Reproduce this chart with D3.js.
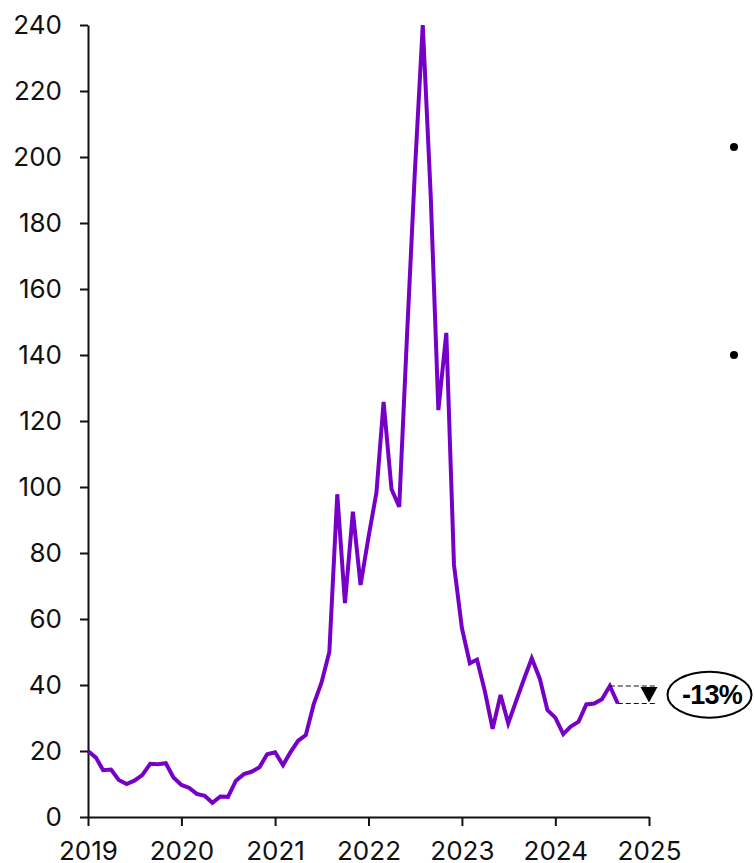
<!DOCTYPE html>
<html>
<head>
<meta charset="utf-8">
<script src="https://cdn.jsdelivr.net/npm/d3@7"></script>
<style>
  html, body { margin: 0; padding: 0; background: #fff; }
  svg { display: block; }
</style>
</head>
<body>
<svg id="chart" width="754" height="863"></svg>
<script>
// ---- data ----
const startMonth = "2019-01-01";
const values = [
  20.0, 18.0, 14.2, 14.4, 11.2, 10.0, 11.0, 12.7, 16.1, 16.0, 16.3, 12.0,
  9.7, 8.8, 7.0, 6.4, 4.3, 6.2, 6.1, 11.0, 13.0, 13.7, 15.1, 19.0,
  19.6, 15.7, 19.5, 23.1, 24.8, 34.2, 40.6, 50.0, 97.8, 64.8, 92.5, 70.3,
  84.8, 98.3, 125.8, 99.3, 94.0, 146.7, 195.3, 240.0, 188.5, 123.3, 146.7, 76.4,
  57.2, 46.6, 47.7, 38.0, 26.7, 37.0, 28.4, 35.2, 41.9, 48.1, 42.0, 32.4,
  30.1, 25.1, 27.4, 28.9, 34.1, 34.4, 35.7, 39.7, 34.4
];
const yTicks = [0, 20, 40, 60, 80, 100, 120, 140, 160, 180, 200, 220, 240];
const xTickYears = ["2019", "2020", "2021", "2022", "2023", "2024", "2025"];
const bulletRows = [147, 355];

// ---- build ----
const parse = d3.timeParse("%Y-%m-%d");
const t0 = parse(startMonth);
const series = values.map((v, i) => ({ date: d3.timeMonth.offset(t0, i), value: v }));

const svg = d3.select("#chart");
const x = d3.scaleTime()
  .domain([parse("2019-01-01"), parse("2025-01-01")])
  .range([88, 649]);
const y = d3.scaleLinear().domain([0, 240]).range([817, 25]);

const FONT = "Inter, 'Open Sans', 'DejaVu Sans', sans-serif";

// y axis
const yAxis = svg.append("g")
  .attr("transform", `translate(${x.range()[0]},0)`)
  .call(d3.axisLeft(y).tickValues(yTicks).tickSize(8).tickSizeOuter(0).tickPadding(18));
// x axis
const xAxis = svg.append("g")
  .attr("transform", `translate(0,${y(0)})`)
  .call(d3.axisBottom(x)
    .tickValues(xTickYears.map(s => parse(s + "-01-01")))
    .tickFormat(d3.timeFormat("%Y"))
    .tickSize(9).tickSizeOuter(0));

[yAxis, xAxis].forEach(g => {
  g.attr("font-family", FONT);
  g.select(".domain").attr("stroke", "#111").attr("stroke-width", 2);
  g.selectAll(".tick line").attr("stroke", "#111").attr("stroke-width", 2);
  g.selectAll(".tick text")
    .attr("fill", "#111")
    .style("font-family", FONT)
    .style("font-size", "26px")
    .style("font-weight", 400);
});
xAxis.selectAll(".tick text").attr("y", 43).attr("dy", 0);

// line
const line = d3.line().x(d => x(d.date)).y(d => y(d.value));
svg.append("path")
  .datum(series)
  .attr("fill", "none")
  .attr("stroke", "#7700C6")
  .attr("stroke-width", 4)
  .attr("stroke-linejoin", "miter")
  .attr("d", line);

// annotation
const last = series[series.length - 1];
const prev = series[series.length - 2];
const change = Math.round((last.value / prev.value - 1) * 100);
const ax = x.range()[1];
const annot = svg.append("g");
annot.append("line")
  .attr("x1", x(prev.date)).attr("x2", ax + 8)
  .attr("y1", y(prev.value)).attr("y2", y(prev.value))
  .attr("stroke", "#111").attr("stroke-width", 1.2).attr("stroke-dasharray", "5,3");
annot.append("line")
  .attr("x1", x(last.date)).attr("x2", ax + 8)
  .attr("y1", y(last.value)).attr("y2", y(last.value))
  .attr("stroke", "#111").attr("stroke-width", 1.2).attr("stroke-dasharray", "5,3");
const ty0 = y(prev.value) + 1, ty1 = y(last.value) - 1;
annot.append("path")
  .attr("d", `M${ax - 8.5},${ty0} L${ax + 8.5},${ty0} L${ax},${ty1} Z`)
  .attr("fill", "#000");
annot.append("ellipse")
  .attr("cx", 709.5).attr("cy", 694.7).attr("rx", 42).attr("ry", 23)
  .attr("fill", "#fff")
  .attr("stroke", "#000")
  .attr("stroke-width", 2);
annot.append("text")
  .attr("x", 712).attr("y", 695)
  .attr("text-anchor", "middle")
  .attr("dominant-baseline", "central")
  .style("font-family", "'Liberation Sans', Arial, sans-serif")
  .style("font-weight", 700)
  .style("font-size", "27px")
  .style("letter-spacing", "-0.8px")
  .attr("fill", "#000")
  .text(`${change}%`);

// bullets on the right (text cut off)
svg.append("g").selectAll("circle")
  .data(bulletRows)
  .join("circle")
  .attr("cx", 734).attr("cy", d => d).attr("r", 4)
  .attr("fill", "#000");
</script>
</body>
</html>
